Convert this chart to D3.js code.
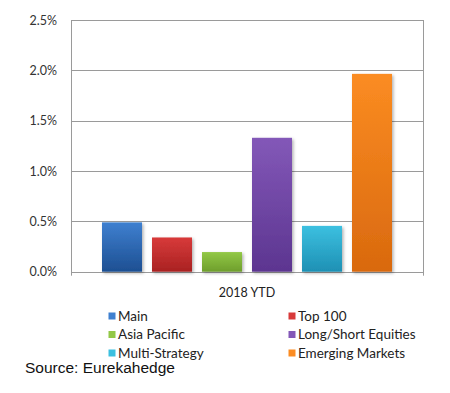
<!DOCTYPE html>
<html>
<head>
<meta charset="UTF-8">
<script src="https://d3js.org/d3.v7.min.js"></script>
<style>
  body { margin: 0; background: #fff; }
  svg { display: block; }
</style>
</head>
<body>
<svg id="chart" width="450" height="393"></svg>
<script>
const series = ["Main", "Top 100", "Asia Pacific", "Long/Short Equities", "Multi-Strategy", "Emerging Markets"];
const values = [0.49, 0.34, 0.195, 1.33, 0.455, 1.965];
const tickValues = [0, 0.5, 1.0, 1.5, 2.0, 2.5];
const category = "2018 YTD";
const source = "Source: Eurekahedge";
// top / bottom gradient stops per series
const topColors = ["#3f80d0", "#d83a3a", "#92c846", "#8358b8", "#3cc0e0", "#fb8c22"];
const bottomColors = ["#1d4f92", "#a92222", "#6e9e2c", "#5c3590", "#1e90b4", "#d9690e"];

const svg = d3.select("#chart");
const margin = { left: 71, right: 27, top: 20, bottom: 121 };
const width = 450, height = 393;
const font = "Lato, 'Open Sans', sans-serif";

const x = d3.scaleBand()
  .domain(series)
  .range([margin.left, width - margin.right])
  .paddingInner(0.2)
  .paddingOuter(0.62);

const y = d3.scaleLinear()
  .domain([0, 2.5])
  .range([height - margin.bottom - 0.3, margin.top]);

const defs = svg.append("defs");
series.forEach((s, i) => {
  const g = defs.append("linearGradient")
    .attr("id", "grad" + i)
    .attr("x1", 0).attr("y1", 0).attr("x2", 0).attr("y2", 1);
  g.append("stop").attr("offset", "0%").attr("stop-color", topColors[i]);
  g.append("stop").attr("offset", "100%").attr("stop-color", bottomColors[i]);
});
const shadow = defs.append("filter").attr("id", "shadow")
  .attr("x", "-20%").attr("y", "-10%").attr("width", "150%").attr("height", "130%");
shadow.append("feDropShadow")
  .attr("dx", 1.5).attr("dy", 1.5).attr("stdDeviation", 1.5)
  .attr("flood-color", "#000").attr("flood-opacity", 0.3);

// gridlines
svg.append("g")
  .selectAll("line")
  .data(tickValues)
  .enter().append("line")
  .attr("x1", margin.left)
  .attr("x2", width - margin.right)
  .attr("y1", d => Math.round(y(d)) + 0.5)
  .attr("y2", d => Math.round(y(d)) + 0.5)
  .attr("stroke", "#9a9a9a")
  .attr("stroke-width", 1);

// left and right frame
[margin.left, width - margin.right].forEach(xx => {
  svg.append("line")
    .attr("x1", xx + 0.5).attr("x2", xx + 0.5)
    .attr("y1", y(2.5)).attr("y2", y(0) + 4)
    .attr("stroke", "#9a9a9a");
});

// bars
svg.append("g")
  .selectAll("rect")
  .data(values)
  .enter().append("rect")
  .attr("x", (d, i) => x(series[i]))
  .attr("y", d => y(d))
  .attr("width", x.bandwidth())
  .attr("height", d => y(0) - y(d))
  .attr("fill", (d, i) => `url(#grad${i})`)
  .attr("filter", "url(#shadow)");

// y tick labels
svg.append("g")
  .selectAll("text")
  .data(tickValues)
  .enter().append("text")
  .attr("x", 57)
  .attr("y", d => y(d) + 4.5)
  .attr("text-anchor", "end")
  .attr("font-family", font)
  .attr("font-size", 12.5)
  .attr("fill", "#333")
  .text(d => d.toFixed(1) + "%");

// category label
svg.append("text")
  .attr("x", (margin.left + width - margin.right) / 2)
  .attr("y", 297)
  .attr("text-anchor", "middle")
  .attr("font-family", font)
  .attr("font-size", 12.5)
  .attr("fill", "#222")
  .text(category);

// legend
const legend = svg.append("g");
series.forEach((s, i) => {
  const col = i % 2, row = Math.floor(i / 2);
  const lx = col === 0 ? 112 : 292;
  const ly = 316 + row * 18.5;
  legend.append("rect")
    .attr("x", lx - 3.5).attr("y", ly - 3.5)
    .attr("width", 7).attr("height", 7)
    .attr("fill", topColors[i]);
  legend.append("text")
    .attr("x", lx + 6)
    .attr("y", ly + 4.5)
    .attr("font-family", font)
    .attr("font-size", 13.5)
    .attr("fill", "#222")
    .text(s);
});

// source
svg.append("text")
  .attr("x", 25)
  .attr("y", 373)
  .attr("font-family", "'Liberation Sans', Arial, sans-serif")
  .attr("font-size", 15.5)
  .attr("fill", "#111")
  .text(source);
</script>
</body>
</html>
